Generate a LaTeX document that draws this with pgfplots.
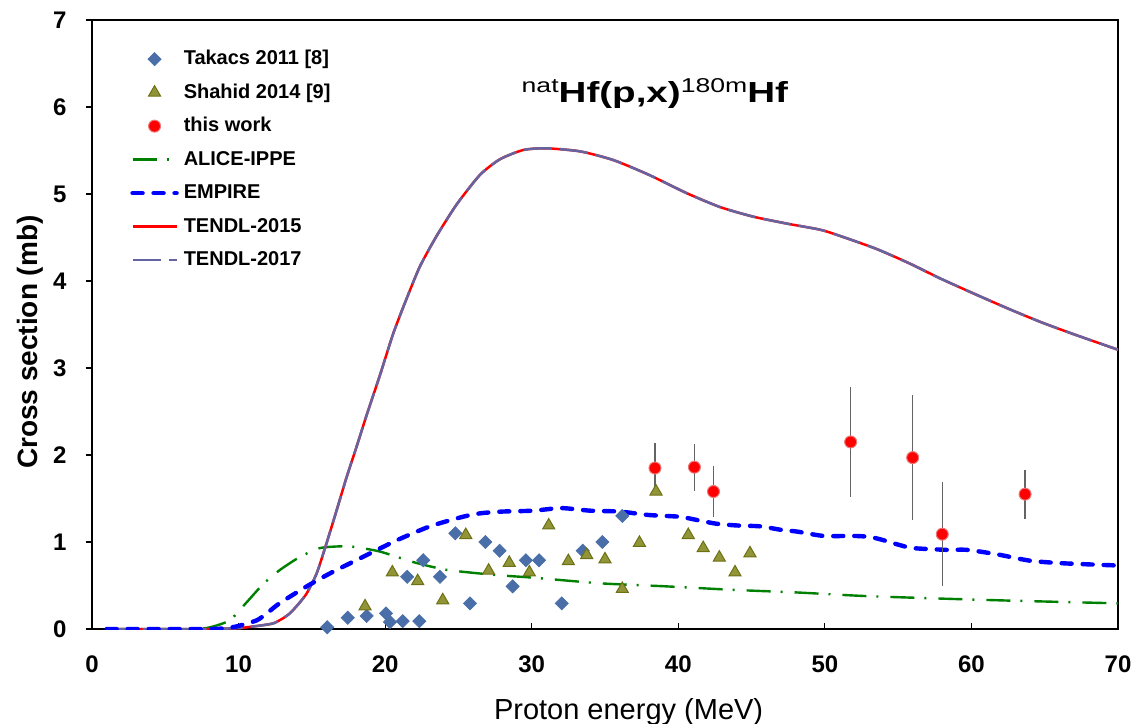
\documentclass[border=0pt]{standalone}
\usepackage{fontspec}
\setmainfont{Liberation Sans}
\usepackage{pgfplots}
\pgfplotsset{compat=1.18}
\usetikzlibrary{calc}
\definecolor{takacs}{RGB}{74,111,168}
\definecolor{shahidf}{RGB}{145,148,55}
\definecolor{shahidd}{RGB}{110,112,20}
\definecolor{alice}{RGB}{0,128,0}
\definecolor{empire}{RGB}{0,0,255}
\definecolor{tendlA}{RGB}{255,0,0}
\definecolor{tendlB}{RGB}{100,100,160}
\definecolor{errc}{RGB}{100,100,100}
\definecolor{redd}{RGB}{235,120,120}
\pgfplotsset{legend image code/.code={\draw[mark repeat=2,mark phase=2,#1] plot coordinates {(0pt,0pt) (11pt,0pt) (22pt,0pt)};}}

\pgfplotstableread{
E y
16.05 0.02
17.45 0.13
18.74 0.15
20.06 0.18
20.33 0.08
21.2 0.09
22.33 0.09
21.5 0.60
22.6 0.79
23.74 0.60
24.79 1.10
25.79 0.295
26.84 1.00
27.81 0.90
28.7 0.49
29.6 0.79
30.5 0.79
32.05 0.295
33.48 0.90
34.82 1.00
36.18 1.30
}\takacs

\pgfplotstableread{
E y
18.63 0.26
20.49 0.65
22.22 0.55
23.93 0.33
25.5 1.08
27.06 0.67
28.47 0.76
29.84 0.65
31.16 1.19
32.5 0.78
33.75 0.85
35.0 0.80
36.18 0.46
37.35 0.99
38.48 1.58
40.68 1.08
41.7 0.93
42.8 0.82
43.87 0.65
44.89 0.87
}\shahid

\pgfplotstableread{
E y err
38.41 1.85 0.29
41.1 1.86 0.27
42.4 1.58 0.29
51.76 2.15 0.63
55.99 1.97 0.72
58.01 1.09 0.60
63.66 1.55 0.28
}\thiswork

\pgfplotstableread{
E y
1 0
7 0
8.28 0.03
9.4 0.1
10.3 0.26
11.7 0.52
12.83 0.68
14.2 0.83
15.55 0.93
16.9 0.95
17.8 0.946
19.65 0.89
21.9 0.77
24.2 0.68
27.6 0.62
30.1 0.59
34.7 0.525
39.2 0.49
43.75 0.45
48.1 0.42
52.6 0.38
57.85 0.35
62.9 0.325
70 0.295
}\alice

\pgfplotstableread{
E y
1 0
8 0
9 0.01
9.87 0.03
11.24 0.1
12.0 0.19
12.83 0.3
14.65 0.49
16.24 0.64
18.5 0.83
20.8 1.02
23.06 1.18
25.3 1.29
26.5 1.33
28.0 1.35
30.1 1.36
32.0 1.39
34.0 1.36
36.0 1.35
38.0 1.31
40.1 1.29
41.5 1.245
42.6 1.21
44.0 1.19
45.6 1.18
47.0 1.14
48.1 1.12
49.9 1.07
51.9 1.07
53.0 1.06
53.8 1.03
55.0 0.97
56.0 0.93
58.3 0.91
59.7 0.91
61.7 0.86
64.0 0.785
66.3 0.755
70 0.73
}\empire

\pgfplotstableread{
E y
1 0
6 0
8 0
10 0.01
10.55 0.02
11.5 0.04
12.37 0.065
13 0.12
13.5 0.18
14.1 0.29
14.65 0.41
15.33 0.64
16.0 0.985
16.7 1.37
17.38 1.75
18.06 2.10
18.74 2.46
19.65 2.92
20.56 3.40
21.47 3.80
22.38 4.17
23.52 4.52
24.88 4.88
26.47 5.22
27.84 5.40
29.43 5.506
31.0 5.525
33.3 5.49
35.57 5.39
38.0 5.22
40.57 5.01
42.85 4.85
45.1 4.74
47.4 4.66
49.67 4.59
51.0 4.52
53.5 4.37
55.8 4.20
57.86 4.03
60.1 3.86
62.4 3.69
64.7 3.53
66.95 3.39
70 3.21
}\tendl

\begin{document}
\begin{tikzpicture}
\begin{axis}[
  name=ax,
  scale only axis, width=513pt, height=304.5pt,
  xmin=0, xmax=70, ymin=0, ymax=7,
  xtick={0,10,...,70}, ytick={0,1,...,7},
  axis line style={line width=1.3pt},
  tick style={black, line width=0.6pt},
  major tick length=3.2pt,
  xtick align=inside, ytick align=outside,
  xtick pos=left, ytick pos=left,
  /pgf/number format/assume math mode=true,
  ticklabel style={font=\bfseries\fontsize{12}{14}\selectfont},
  xticklabel style={yshift=-10pt},
  yticklabel style={xshift=-6pt},
  xlabel={Proton energy (MeV)},
  xlabel style={font=\fontsize{14.5}{16}\selectfont, at={(axis description cs:0.523,-0.148)}, anchor=base},
  ylabel={Cross section (mb)},
  ylabel style={font=\bfseries\fontsize{14}{16}\selectfont, at={(axis description cs:-0.0604,0.471)}, anchor=center},
  legend style={at={(axis description cs:0.037,0.952)}, anchor=north west, draw=none, fill=none,
    inner sep=0pt, row sep=7.25pt, column sep=2.5pt,
    font=\bfseries\fontsize{10}{12}\selectfont,
    nodes={inner sep=0pt, text height=7.5pt, text depth=2pt}},
  legend cell align=left,
]
\addlegendimage{only marks, mark=square*, mark options={rotate=45, fill=takacs, draw=takacs}, mark size=2.3pt}
\addlegendentry{Takacs 2011 [8]}
\addlegendimage{only marks, mark=triangle*, mark options={fill=shahidf, draw=shahidd, line width=0.5pt}, mark size=3.5pt}
\addlegendentry{Shahid 2014 [9]}
\addlegendimage{only marks, mark=*, mark options={fill=red, draw=redd, line width=0.5pt}, mark size=3pt}
\addlegendentry{this work}
\addlegendimage{alice, line width=1.2pt, dash pattern=on 12pt off 5pt on 1pt off 6pt}
\addlegendentry{ALICE-IPPE}
\addlegendimage{empire, line width=2.2pt, line cap=round, dash pattern=on 5pt off 5.5pt}
\addlegendentry{EMPIRE}
\addlegendimage{tendlA, line width=1.25pt}
\addlegendentry{TENDL-2015}
\addlegendimage{tendlB, line width=1.25pt, dash pattern=on 14pt off 4pt}
\addlegendentry{TENDL-2017}

\addplot[forget plot, alice, line width=1.2pt, dash pattern=on 12pt off 5pt on 1pt off 6pt, smooth, tension=0.4] table[x=E,y=y] {\alice};
\addplot[forget plot, tendlA, line width=1.25pt, smooth, tension=0.4] table[x=E,y=y] {\tendl};
\addplot[forget plot, tendlB, line width=1.25pt, dash pattern=on 14pt off 4pt, smooth, tension=0.4] table[x=E,y=y] {\tendl};
\addplot[forget plot, empire, line width=2.2pt, line cap=round, dash pattern=on 5pt off 5.5pt, smooth, tension=0.4] table[x=E,y=y] {\empire};

\addplot[forget plot, only marks, mark=square*, mark options={rotate=45, fill=takacs, draw=takacs}, mark size=2.3pt] table[x=E,y=y] {\takacs};
\addplot[forget plot, only marks, mark=triangle*, mark options={fill=shahidf, draw=shahidd, line width=0.5pt}, mark size=3.5pt] table[x=E,y=y] {\shahid};
\addplot[forget plot, only marks, mark=*, mark options={fill=red, draw=redd, line width=0.5pt}, mark size=3pt,
  error bars/.cd, y dir=both, y explicit, error mark=none,
  error bar style={errc, line width=0.6pt}] table[x=E,y=y,y error=err] {\thiswork};

\node[anchor=base, font=\bfseries\fontsize{14.5}{16}\selectfont] at (axis cs:38.4,6.05)
  {\scalebox{1.33}[1]{\raisebox{5pt}{\mdseries\fontsize{10}{11}\selectfont nat}Hf(p,x)\raisebox{5pt}{\mdseries\fontsize{10}{11}\selectfont 180m}Hf}};
\end{axis}
\pgfresetboundingbox
\path ($(ax.south west)+(-46pt,-47pt)$) rectangle ($(ax.north east)+(9pt,10pt)$);
\end{tikzpicture}
\end{document}
